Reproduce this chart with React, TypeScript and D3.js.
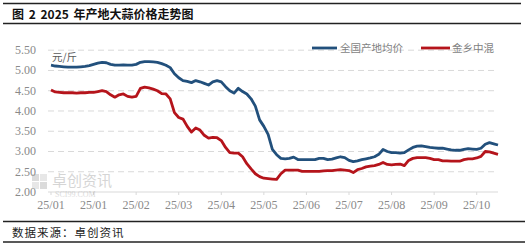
import React from "react";
import * as d3 from "d3";

const xLabels = ["25/01", "25/01", "25/02", "25/03", "25/04", "25/05", "25/06", "25/07", "25/08", "25/09", "25/10"];
const labelEvery = 10;
const yTicks = [2.0, 2.5, 3.0, 3.5, 4.0, 4.5, 5.0, 5.5];
const seriesNames = ["全国产地均价", "金乡中混"];

const national = [
  5.13, 5.11, 5.10, 5.09, 5.08, 5.08, 5.08, 5.09, 5.10, 5.12,
  5.15, 5.18, 5.20, 5.19, 5.15, 5.13, 5.13, 5.14, 5.13, 5.13,
  5.15, 5.20, 5.22, 5.22, 5.21, 5.20, 5.17, 5.13, 5.07, 4.92,
  4.82, 4.75, 4.73, 4.70, 4.75, 4.72, 4.68, 4.64, 4.72, 4.75,
  4.72, 4.60, 4.50, 4.44, 4.56, 4.48, 4.42, 4.30, 4.12, 3.78,
  3.62, 3.42, 3.05, 2.92, 2.83, 2.82, 2.83, 2.86, 2.80, 2.80,
  2.80, 2.80, 2.80, 2.83, 2.83, 2.80, 2.81, 2.84, 2.87, 2.85,
  2.78, 2.75, 2.77, 2.80, 2.82, 2.84, 2.87, 2.93, 3.05, 3.00,
  2.97, 2.97, 2.96, 2.97, 3.04, 3.10, 3.13, 3.14, 3.12, 3.10,
  3.09, 3.08, 3.08, 3.06, 3.04, 3.03, 3.03, 3.05, 3.07, 3.06,
  3.05, 3.08, 3.18, 3.22, 3.19, 3.16,
];

const jinxiang = [
  4.52, 4.47, 4.46, 4.45, 4.45, 4.45, 4.44, 4.45, 4.45, 4.46,
  4.46, 4.48, 4.50, 4.48, 4.40, 4.34, 4.40, 4.42, 4.36, 4.34,
  4.36, 4.56, 4.59, 4.57, 4.54, 4.50, 4.43, 4.42, 4.30, 3.96,
  3.84, 3.80, 3.62, 3.48, 3.58, 3.53, 3.40, 3.33, 3.35, 3.34,
  3.27, 3.10, 2.97, 2.96, 2.96, 2.87, 2.70, 2.57, 2.45, 2.38,
  2.34, 2.33, 2.32, 2.31, 2.45, 2.54, 2.54, 2.54, 2.54, 2.51,
  2.51, 2.51, 2.51, 2.51, 2.52, 2.53, 2.53, 2.54, 2.55, 2.54,
  2.53, 2.48, 2.55, 2.58, 2.62, 2.64, 2.65, 2.68, 2.73, 2.68,
  2.67, 2.68, 2.69, 2.65, 2.78, 2.83, 2.85, 2.85, 2.85, 2.83,
  2.80, 2.80, 2.77, 2.77, 2.76, 2.76, 2.76, 2.80, 2.82, 2.82,
  2.84, 2.88, 3.00, 2.99, 2.96, 2.93,
];

const W = 527;
const H = 245;
const plotLeft = 48;
const plotRight = 498;

export default function App() {
  const n = national.length;
  const x = d3.scaleLinear().domain([0, n - 1]).range([51, 498]);
  const y = d3.scaleLinear().domain([2, 5.5]).range([192, 50.2]);
  const line = d3
    .line<number>()
    .x((_, i) => x(i))
    .y((d) => y(d))
    .curve(d3.curveLinear);

  const gray = "#8a8a8a";
  const serifStyle = { fontFamily: "'Liberation Serif', 'DejaVu Serif', serif" };
  const cjk = "Noto Sans CJK SC, sans-serif";

  return (
    <svg
      width={W}
      height={H}
      viewBox={`0 0 ${W} ${H}`}
      style={{ position: "absolute", left: 0, top: 0, background: "#fff" }}
    >
      <rect x={0} y={0} width={W} height={H} fill="#fff" />
      {/* header rules */}
      <line x1={3} x2={521} y1={3.5} y2={3.5} stroke="#222" strokeWidth={1.5} />
      <text x={12} y={19} fontFamily={cjk} fontWeight={700} fontSize={12} fill="#111" style={{ wordSpacing: "2px" }}>
        图 2 2025 年产地大蒜价格走势图
      </text>
      <line x1={3} x2={521} y1={23.5} y2={23.5} stroke="#222" strokeWidth={1.5} />

      {/* gridlines */}
      {yTicks.slice(1).map((t) => (
        <line
          key={t}
          x1={plotLeft}
          x2={plotRight}
          y1={y(t)}
          y2={y(t)}
          stroke="#d9d9d9"
          strokeWidth={1}
          strokeDasharray="6,4"
        />
      ))}
      {/* x axis */}
      <line x1={plotLeft} x2={plotRight} y1={y(2)} y2={y(2)} stroke="#d9d9d9" strokeWidth={1} />
      {xLabels.map((lab, k) => (
        <g key={k}>
          <line
            x1={x(k * labelEvery)}
            x2={x(k * labelEvery)}
            y1={y(2)}
            y2={y(2) + 3}
            stroke="#d9d9d9"
          />
          <text
            x={x(k * labelEvery)}
            y={209}
            textAnchor="middle"
            style={serifStyle}
            fontSize={12}
            fill={gray}
          >
            {lab}
          </text>
        </g>
      ))}
      {/* y labels */}
      {yTicks.map((t) => (
        <text
          key={t}
          x={36}
          y={y(t) + 4}
          textAnchor="end"
          style={serifStyle}
          fontSize={12}
          fill={gray}
        >
          {t.toFixed(2)}
        </text>
      ))}
      <text x={52} y={61} fontFamily={cjk} fontSize={10.5} fill="#595959">
        元/斤
      </text>

      {/* watermark */}
      <g opacity={0.35}>
        <rect x={32} y={174} width={7} height={7} fill="#9a9a9a" />
        <rect x={40} y={174} width={7} height={7} fill="#bdbdbd" />
        <rect x={32} y={182} width={7} height={7} fill="#bdbdbd" />
        <rect x={40} y={182} width={7} height={7} fill="#9a9a9a" />
        <text x={52} y={186} fontFamily={cjk} fontSize={15} fill="#8a8a8a">
          卓创资讯
        </text>
        <text x={55} y={197} style={serifStyle} fontSize={8} fill="#9a9a9a">
          SCI99.COM
        </text>
      </g>

      {/* series */}
      <path d={line(national) || ""} fill="none" stroke="#22507c" strokeWidth={2.8} strokeLinejoin="round" />
      <path d={line(jinxiang) || ""} fill="none" stroke="#b5141b" strokeWidth={2.8} strokeLinejoin="round" />

      {/* legend */}
      <line x1={312} x2={337} y1={48} y2={48} stroke="#22507c" strokeWidth={2.8} />
      <text x={340} y={52} fontFamily={cjk} fontSize={10.5} fill="#7f7f7f">
        {seriesNames[0]}
      </text>
      <line x1={421} x2={450} y1={48} y2={48} stroke="#b5141b" strokeWidth={2.8} />
      <text x={452} y={52} fontFamily={cjk} fontSize={10.5} fill="#7f7f7f">
        {seriesNames[1]}
      </text>

      {/* footer */}
      <line x1={3} x2={525} y1={221.5} y2={221.5} stroke="#222" strokeWidth={1.5} />
      <text x={12} y={237} fontFamily={cjk} fontSize={11.5} fill="#222" style={{ letterSpacing: "1px" }}>
        数据来源：卓创资讯
      </text>
      <line x1={3} x2={525} y1={242} y2={242} stroke="#222" strokeWidth={1.5} />
    </svg>
  );
}
